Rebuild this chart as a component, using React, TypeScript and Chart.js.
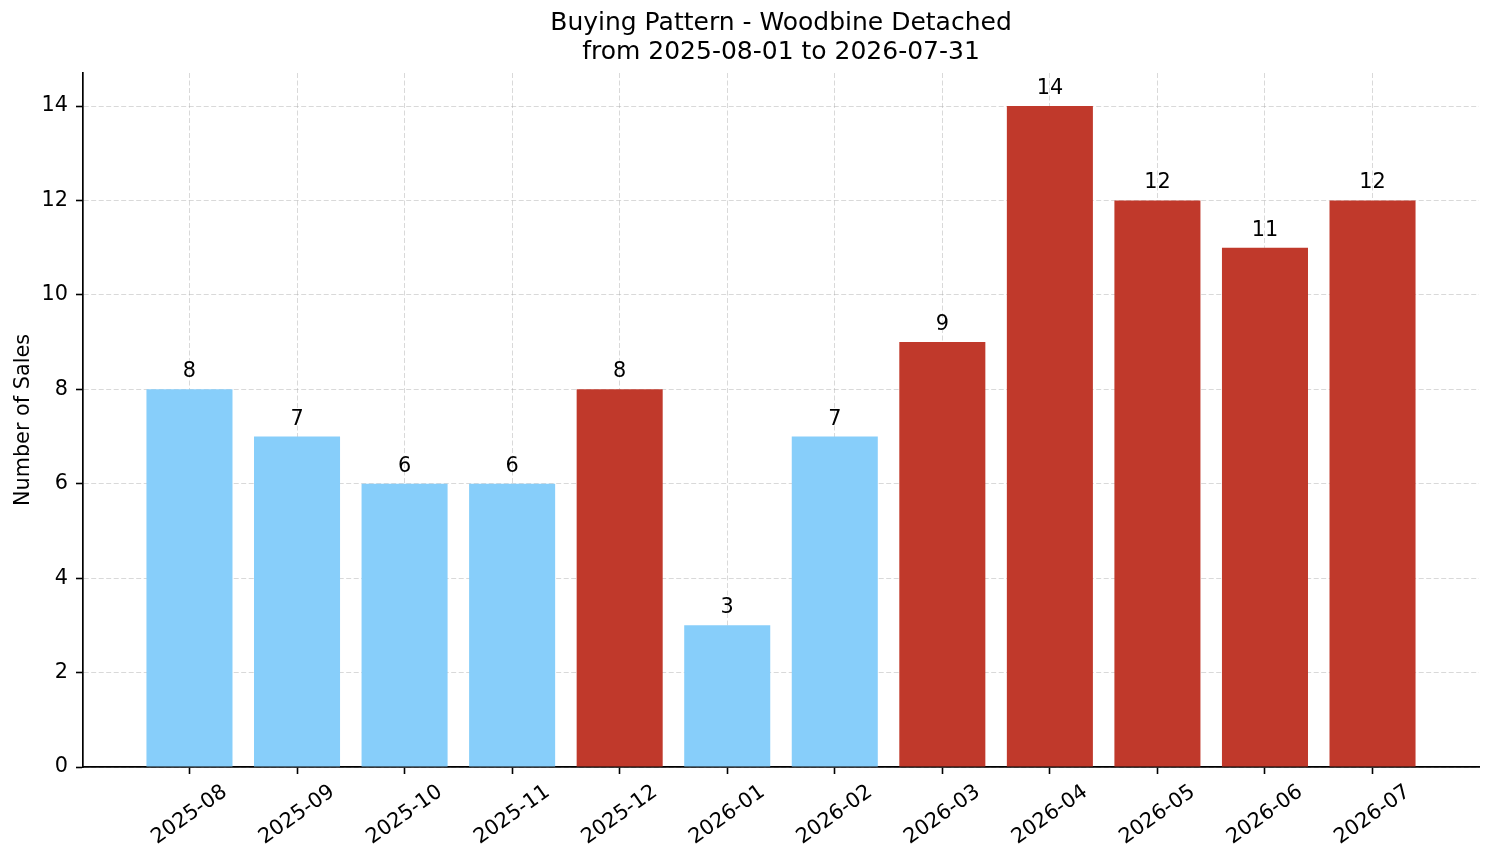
import React, { useEffect, useRef } from "react";
import { Chart, registerables } from "chart.js";

Chart.register(...registerables);

const months = [
  "2025-08", "2025-09", "2025-10", "2025-11", "2025-12", "2026-01",
  "2026-02", "2026-03", "2026-04", "2026-05", "2026-06", "2026-07",
];
const sales = [8, 7, 6, 6, 8, 3, 7, 9, 14, 12, 11, 12];
const barColors = [
  "#87CEFA", "#87CEFA", "#87CEFA", "#87CEFA", "#C0392B", "#87CEFA",
  "#87CEFA", "#C0392B", "#C0392B", "#C0392B", "#C0392B", "#C0392B",
];
const yTicks = [0, 2, 4, 6, 8, 10, 12, 14];
const titleLines = ["Buying Pattern - Woodbine Detached", "from 2025-08-01 to 2026-07-31"];
const yTitle = "Number of Sales";

const FONT = "'DejaVu Sans', sans-serif";
const GRID = "rgba(170,170,170,0.45)";

// draws bar value labels, rotated x tick labels (centred like matplotlib) and y title
const labelsPlugin = {
  id: "mplLabels",
  afterDraw(chart: any) {
    const ctx = chart.ctx as CanvasRenderingContext2D;
    const xs = chart.scales.x;
    const ys = chart.scales.y;
    const area = chart.chartArea;
    ctx.save();
    ctx.fillStyle = "#000";
    ctx.font = `20.8px ${FONT}`;

    // value labels
    ctx.textAlign = "center";
    ctx.textBaseline = "alphabetic";
    const meta = chart.getDatasetMeta(0);
    meta.data.forEach((bar: any, i: number) => {
      ctx.fillText(String(sales[i]), bar.x, bar.y - 12);
    });

    // x tick labels, rotated 35 deg, box centred under the tick
    const theta = (35 * Math.PI) / 180;
    const h = 20.8 * 0.95;
    months.forEach((m, i) => {
      const x = xs.getPixelForValue(i);
      const w = ctx.measureText(m).width;
      const H = w * Math.sin(theta) + h * Math.cos(theta);
      const top = area.bottom + 15;
      ctx.save();
      ctx.translate(x, top + H / 2);
      ctx.rotate(-theta);
      ctx.textAlign = "center";
      ctx.textBaseline = "middle";
      ctx.fillText(m, 0, 0);
      ctx.restore();
    });

    // y axis title
    ctx.save();
    ctx.translate(24, (ys.top + ys.bottom) / 2);
    ctx.rotate(-Math.PI / 2);
    ctx.textAlign = "center";
    ctx.textBaseline = "middle";
    ctx.fillText(yTitle, 0, 0);
    ctx.restore();

    ctx.restore();
  },
};

export default function App() {
  const canvasRef = useRef<HTMLCanvasElement | null>(null);
  const chartRef = useRef<Chart | null>(null);

  useEffect(() => {
    if (!canvasRef.current) return;
    if (chartRef.current) chartRef.current.destroy();

    chartRef.current = new Chart(canvasRef.current, {
      type: "bar",
      data: {
        datasets: [
          {
            data: sales.map((v, i) => ({ x: i, y: v })),
            backgroundColor: barColors,
            borderWidth: 0,
            categoryPercentage: 1,
            barPercentage: 0.8,
          },
        ],
      },
      options: {
        animation: false,
        responsive: true,
        maintainAspectRatio: false,
        layout: { padding: { left: 0, right: 15, top: 0, bottom: 0 } },
        plugins: {
          legend: { display: false },
          tooltip: { enabled: false },
          title: {
            display: true,
            text: titleLines,
            fullSize: false,
            color: "#000",
            font: { family: FONT, size: 25, weight: "normal", lineHeight: 1.16 },
            padding: { top: 9, bottom: 6 },
          },
        },
        scales: {
          x: {
            type: "linear",
            min: -0.99,
            max: 11.99,
            offset: false,
            z: 1,
            afterBuildTicks: (s: any) => {
              s.ticks = months.map((_, i) => ({ value: i }));
            },
            afterFit: (s: any) => {
              s.height = 96;
            },
            ticks: { display: false },
            grid: {
              offset: false,
              color: GRID,
              lineWidth: 1,
              tickColor: "#000",
              tickLength: 7,
              tickWidth: 1.6,
            },
            border: { display: true, color: "#000", width: 1.7, dash: [5, 2.5] },
          },
          y: {
            type: "linear",
            min: 0,
            max: 14.7,
            z: 1,
            afterBuildTicks: (s: any) => {
              s.ticks = yTicks.map((v) => ({ value: v }));
            },
            afterFit: (s: any) => {
              s.width = 83;
            },
            ticks: {
              color: "#000",
              padding: 8,
              font: { family: FONT, size: 20.8 },
            },
            grid: {
              color: GRID,
              lineWidth: 1,
              tickColor: "#000",
              tickLength: 7,
              tickWidth: 1.6,
            },
            border: { display: true, color: "#000", width: 1.7, dash: [5, 2.5] },
          },
        },
      },
      plugins: [labelsPlugin],
    });

    return () => {
      if (chartRef.current) {
        chartRef.current.destroy();
        chartRef.current = null;
      }
    };
  }, []);

  return (
    <div style={{ position: "fixed", left: 0, top: 0, width: 1494, height: 863, background: "#fff" }}>
      <canvas ref={canvasRef}></canvas>
    </div>
  );
}
